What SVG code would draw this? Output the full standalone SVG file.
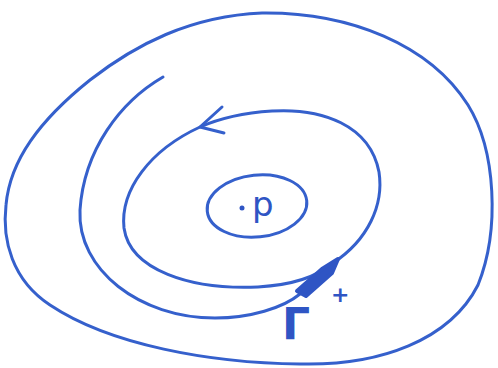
<svg xmlns="http://www.w3.org/2000/svg" width="498" height="368" viewBox="0 0 498 368">
<style>
.c{fill:none;stroke:#3560cc;stroke-width:3;stroke-linecap:round;stroke-linejoin:round}
.t{fill:#2f55c4;font-family:"DejaVu Sans","Liberation Sans",sans-serif}
</style>
<rect width="498" height="368" fill="#fff"/>
<g id="outer-curve"><path class="c" d="M262 13 C350 12 430 45 468 105 C496 150 500 230 478 285 C450 340 380 366 300 364 C210 363 110 345 50 305 C12 280 2 240 6 205 C10 160 40 120 90 80 C135 45 190 16 262 13 Z"/></g>
<g id="spiral">
<path class="c" d="M163 77 C120 102 84 150 80 210 C77 270 140 318 215 318 C250 318 283 308 300 294"/>
<path class="c" d="M333 263 C368 240 384 205 379 172 C370 125 322 108 272 111 C242 113 218 119 200 127 C150 150 120 190 124 228 C130 270 190 290 258 287 C292 285 318 276 333 263"/>
<path class="c" d="M222 107 L200 127 L224 133"/>
<path d="M297 291 L322 269 L338 259 L332 273 L306 296 Z" fill="#2f55c4" stroke="#2f55c4" stroke-width="4" stroke-linejoin="round"/>
</g>
<g id="p-node">
<ellipse class="c" cx="257" cy="206" rx="50" ry="31" transform="rotate(-6 257 206)"/>
<circle cx="242" cy="208" r="2.5" fill="#2f55c4"/>
<text class="t" x="252" y="216" font-size="34">p</text>
</g>
<g id="label">
<text class="t" x="282" y="340" font-size="44" font-weight="bold">Γ</text>
<text class="t" x="331" y="302" font-size="22" font-weight="bold">+</text>
</g>
</svg>
